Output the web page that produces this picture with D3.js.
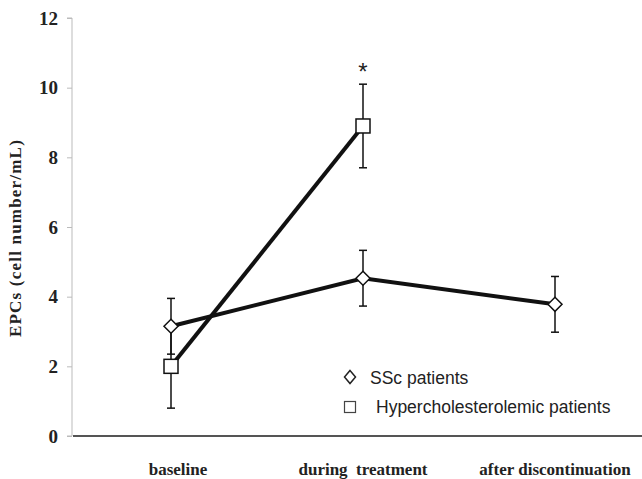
<!DOCTYPE html>
<html>
<head>
<meta charset="utf-8">
<script src="https://cdn.jsdelivr.net/npm/d3@7"></script>
<style>
  body { margin: 0; background: #fff; }
  .cat { font-family: "Liberation Serif", "Times New Roman", serif; font-weight: bold; font-size: 17px; }
  .legend { font-family: "Liberation Sans", Arial, sans-serif; font-size: 17.5px; fill: #222; }
</style>
</head>
<body>
<div id="chart"></div>
<script>
  'use strict';

  const categories = ["baseline", "during  treatment", "after discontinuation"];
  const yTicks = [0, 2, 4, 6, 8, 10, 12];

  // SSc patients: mean and error per time point
  const sscMean = [3.15, 4.53, 3.78];
  const sscErr = [0.8, 0.8, 0.8];

  // Hypercholesterolemic patients: no value after discontinuation
  const hyperMean = [2.0, 8.9];
  const hyperErr = [1.2, 1.2];

  const size = { width: 642, height: 479 };
  const axisX = 72;

  const svg = d3.select("#chart").append("svg")
      .attr("width", size.width)
      .attr("height", size.height);

  const xScale = d3.scalePoint()
      .domain(categories)
      .range([75, 651])
      .padding(0.5);

  const yScale = d3.scaleLinear()
      .domain([0, 12])
      .range([436, 18]);

  // y axis
  const yAxis = d3.axisLeft(yScale)
      .tickValues(yTicks)
      .tickSize(5)
      .tickPadding(9);

  const yG = svg.append("g")
      .attr("transform", "translate(" + axisX + ",0)")
      .call(yAxis)
      .attr("font-family", null)
      .attr("font-size", null);
  yG.select(".domain").attr("stroke", "#bbb").attr("d", "M-5," + yScale(12) + "H0V" + yScale(0) + "H-5");
  yG.selectAll(".tick line").attr("stroke", "#bbb");
  yG.selectAll(".tick text")
      .style("font-family", "'Liberation Serif', 'Times New Roman', serif")
      .style("font-weight", "bold")
      .style("font-size", "19px")
      .attr("fill", "#222");

  // baseline of the x axis
  svg.append("line")
      .attr("x1", axisX + 1).attr("x2", size.width)
      .attr("y1", yScale(0)).attr("y2", yScale(0))
      .attr("stroke", "#555")
      .attr("stroke-width", 2);

  // category labels
  svg.selectAll("text.cat")
      .data(categories)
      .enter().append("text")
      .attr("class", "cat")
      .attr("x", (d, i) => xScale(d) + (i === 0 ? 7 : 0))
      .attr("y", 475)
      .attr("text-anchor", "middle")
      .attr("fill", "#222")
      .style("white-space", "pre")
      .text(d => d);

  // y axis label
  svg.append("text")
      .attr("class", "cat")
      .attr("transform", "translate(21," + 238 + ") rotate(-90)")
      .attr("text-anchor", "middle")
      .attr("fill", "#222")
      .style("letter-spacing", "1.2px")
      .text("EPCs (cell number/mL)");

  const sscPts = sscMean.map((v, i) => ({ cat: categories[i], value: v, err: sscErr[i] }));
  const hyperPts = hyperMean.map((v, i) => ({ cat: categories[i], value: v, err: hyperErr[i] }));

  const line = d3.line()
      .x(d => xScale(d.cat))
      .y(d => yScale(d.value));

  // error bars
  function errorBars(pts) {
    const g = svg.append("g").attr("stroke", "#111").attr("stroke-width", 1.5);
    pts.forEach(d => {
      const x = xScale(d.cat);
      const y0 = yScale(d.value - d.err);
      const y1 = yScale(d.value + d.err);
      g.append("line").attr("x1", x).attr("x2", x).attr("y1", y0).attr("y2", y1);
      g.append("line").attr("x1", x - 4).attr("x2", x + 4).attr("y1", y0).attr("y2", y0);
      g.append("line").attr("x1", x - 4).attr("x2", x + 4).attr("y1", y1).attr("y2", y1);
    });
  }
  errorBars(hyperPts);
  errorBars(sscPts);

  svg.append("path")
      .datum(hyperPts)
      .attr("fill", "none")
      .attr("stroke", "#111")
      .attr("stroke-width", 4)
      .attr("d", line);

  svg.append("path")
      .datum(sscPts)
      .attr("fill", "none")
      .attr("stroke", "#111")
      .attr("stroke-width", 4)
      .attr("d", line);

  const diamond = "M0,-7L7,0L0,7L-7,0Z";

  svg.selectAll("path.ssc")
      .data(sscPts)
      .enter().append("path")
      .attr("class", "ssc")
      .attr("transform", d => "translate(" + xScale(d.cat) + "," + yScale(d.value) + ")")
      .attr("d", diamond)
      .attr("fill", "#fff")
      .attr("stroke", "#111")
      .attr("stroke-width", 1.5);

  svg.selectAll("rect.hyper")
      .data(hyperPts)
      .enter().append("rect")
      .attr("class", "hyper")
      .attr("x", d => xScale(d.cat) - 7)
      .attr("y", d => yScale(d.value) - 7)
      .attr("width", 14)
      .attr("height", 14)
      .attr("fill", "#fff")
      .attr("stroke", "#111")
      .attr("stroke-width", 1.5);

  // significance marker
  svg.append("text")
      .attr("x", xScale(categories[1]))
      .attr("y", yScale(hyperMean[1] + hyperErr[1]) - 4)
      .attr("text-anchor", "middle")
      .attr("font-family", "Liberation Sans, Arial, sans-serif")
      .attr("font-size", 24)
      .attr("fill", "#222")
      .text("*");

  // legend
  const legend = svg.append("g");
  legend.append("path")
      .attr("transform", "translate(350,377)")
      .attr("d", "M0,-6.5L5.5,0L0,6.5L-5.5,0Z")
      .attr("fill", "#fff")
      .attr("stroke", "#222")
      .attr("stroke-width", 1.5);
  legend.append("text")
      .attr("class", "legend")
      .attr("x", 370).attr("y", 383.5)
      .text("SSc patients");
  legend.append("rect")
      .attr("x", 344.5).attr("y", 401.5)
      .attr("width", 11).attr("height", 11)
      .attr("fill", "#fff")
      .attr("stroke", "#444")
      .attr("stroke-width", 1.2);
  legend.append("text")
      .attr("class", "legend")
      .attr("x", 376).attr("y", 413)
      .text("Hypercholesterolemic patients");
</script>
</body>
</html>
